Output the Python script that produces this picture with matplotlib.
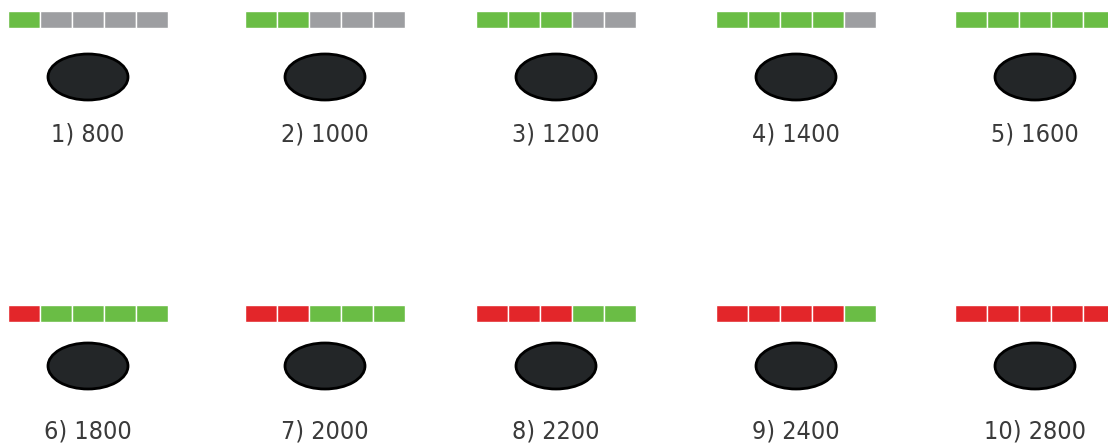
import matplotlib
matplotlib.use("Agg")
import matplotlib.pyplot as plt
from matplotlib.patches import Ellipse

# panel data
labels = ["1) 800", "2) 1000", "3) 1200", "4) 1400", "5) 1600",
          "6) 1800", "7) 2000", "8) 2200", "9) 2400", "10) 2800"]
segments = [
    "GXXXX", "GGXXX", "GGGXX", "GGGGX", "GGGGG",
    "RGGGG", "RRGGG", "RRRGG", "RRRRG", "RRRRR",
]
seg_colors = {"G": "#6abd45", "X": "#9d9ea1", "R": "#e3262a"}

# layout (pixels)
col_x = [88, 325, 556, 796, 1035]
row_bar_top = [11, 305]
row_ell_y = [77, 366]
row_text_y = [134, 431]
seg_w = 32
bar_h = 17

fig = plt.figure(figsize=(11.08, 4.44), dpi=100)
ax = fig.add_axes([0, 0, 1, 1])
ax.set_xlim(0, 1108)
ax.set_ylim(444, 0)
ax.axis("off")

for i, (lab, segs) in enumerate(zip(labels, segments)):
    r, c = divmod(i, 5)
    cx = col_x[c]
    left = cx - seg_w * len(segs) / 2
    xs = [left + seg_w * (k + 0.5) for k in range(len(segs))]
    ax.bar(xs, bar_h, width=seg_w, bottom=row_bar_top[r],
           color=[seg_colors[s] for s in segs], edgecolor="white", linewidth=1)
    ax.add_patch(Ellipse((cx, row_ell_y[r]), 80, 46, facecolor="#232628",
                         edgecolor="black", linewidth=2))
    ax.text(cx, row_text_y[r], lab, ha="center", va="center", fontsize=18,
            color="#3a3a3a", family="DejaVu Sans", fontstretch="condensed")

fig.savefig("out.png", dpi=100)
